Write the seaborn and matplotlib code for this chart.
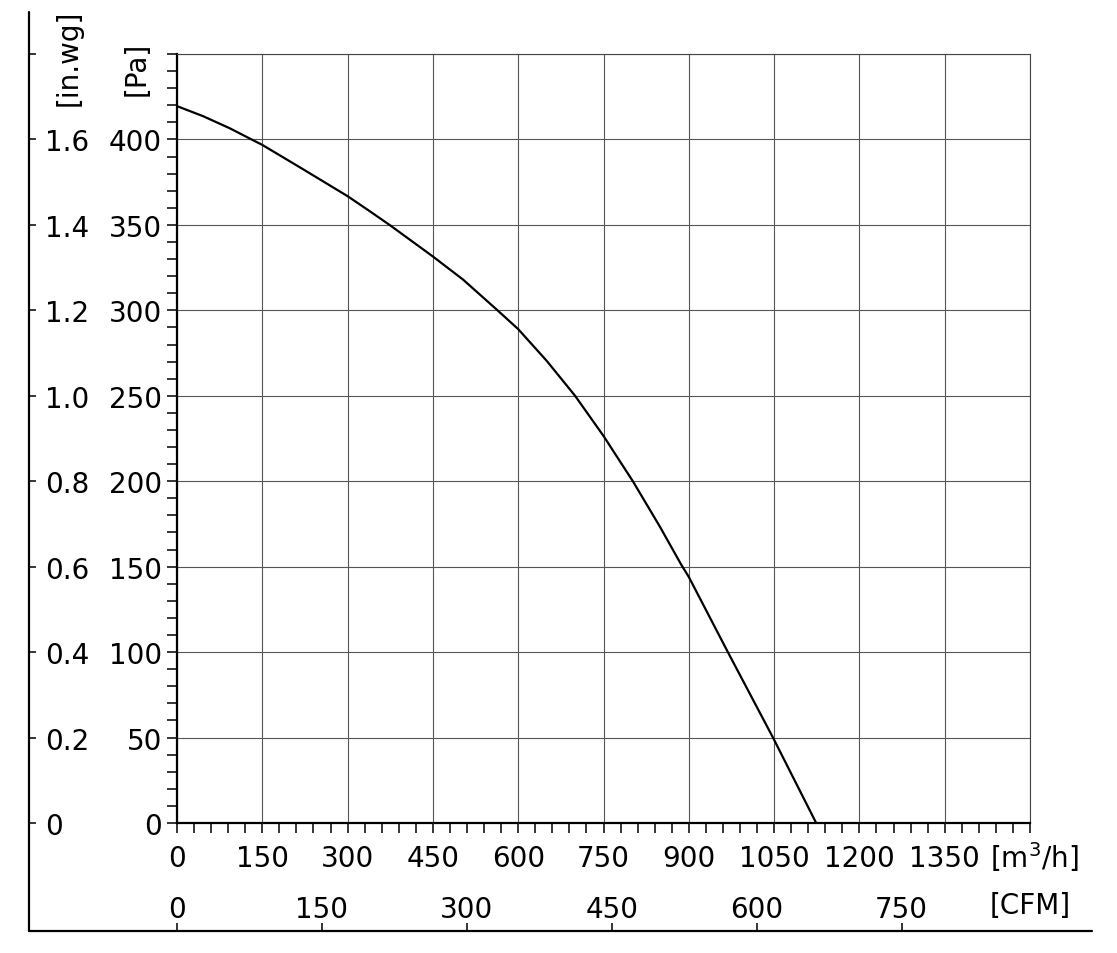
import matplotlib
matplotlib.use("Agg")
import matplotlib.pyplot as plt
from matplotlib.ticker import MultipleLocator, FixedLocator, FuncFormatter
from matplotlib.lines import Line2D
import seaborn as sns

# fan curve (air flow in m3/h, static pressure in Pa)
flow_m3h = [0, 46, 93, 134, 150, 222, 300, 339, 375, 450, 503, 562, 600, 650,
            700, 750, 802, 849, 887, 900, 969, 1048, 1124]
pressure_pa = [419.5, 413.6, 406.5, 399.5, 396.8, 382.5, 366.8, 358, 349.7, 331.5, 318, 300.5,
               289, 270.5, 250, 226.5, 199.8, 173.5, 151, 144, 99.8, 50, 0]

# axis ticks
flow_ticks = [0, 150, 300, 450, 600, 750, 900, 1050, 1200, 1350, 1500]
pa_ticks = [0, 50, 100, 150, 200, 250, 300, 350, 400, 450]
cfm_ticks = [0, 150, 300, 450, 600, 750]
inwg_ticks = [0, 0.2, 0.4, 0.6, 0.8, 1.0, 1.2, 1.4, 1.6, 1.8]

W, H = 1117, 954
FS = 20

sns.set_style("white")
plt.rcParams['font.family'] = ['DejaVu Sans']
plt.rcParams['text.color'] = 'black'

fig = plt.figure(figsize=(W / 100, H / 100), dpi=100)
ax = fig.add_axes([177 / W, 1 - 824 / H, (1030 - 177) / W, (824 - 55) / H])

sns.lineplot(x=flow_m3h, y=pressure_pa, color='black', lw=1.6, sort=False, ax=ax)
ax.set_xlim(0, 1500)
ax.set_ylim(0, 450)

# main ticks
ax.xaxis.set_major_locator(FixedLocator(flow_ticks))
ax.xaxis.set_minor_locator(MultipleLocator(30))
ax.yaxis.set_major_locator(FixedLocator(pa_ticks))
ax.yaxis.set_minor_locator(MultipleLocator(10))
ax.xaxis.set_major_formatter(FuncFormatter(lambda v, _: '' if v >= 1500 else f'{v:.0f}'))
ax.yaxis.set_major_formatter(FuncFormatter(lambda v, _: '' if v >= 450 else f'{v:.0f}'))
ax.tick_params(axis='both', which='both', direction='out', length=7.2, width=1.1,
               color='black', labelsize=FS, labelcolor='black')
ax.tick_params(axis='x', which='both', bottom=True, pad=8)
ax.tick_params(axis='y', which='both', left=True, pad=3.6)

ax.grid(True, which='major', color='#555555', lw=0.8)
for s in ['left', 'bottom']:
    ax.spines[s].set_linewidth(1.6)
    ax.spines[s].set_color('black')
for s in ['top', 'right']:
    ax.spines[s].set_linewidth(0.8)
    ax.spines[s].set_color('#444444')
ax.set_xlabel('')
ax.set_ylabel('')

# CFM scale below the m3/h scale
cfm = ax.secondary_xaxis((824 - 932) / (824 - 55),
                         functions=(lambda q: q / 1.699, lambda c: c * 1.699))
cfm.set_alignment('top')
cfm.xaxis.set_major_locator(FixedLocator(cfm_ticks))
cfm.xaxis.set_major_formatter(FuncFormatter(lambda v, _: f'{v:.0f}'))
cfm.tick_params(axis='x', direction='out', length=5.5, width=1.1, pad=0.5,
                labelsize=FS, labelcolor='black', color='black')
for s in cfm.spines.values():
    s.set_visible(False)

# in.wg scale on the far left
inwg = ax.secondary_yaxis((29 - 177) / (1030 - 177),
                          functions=(lambda p: p * 0.004, lambda w: w / 0.004))
inwg.set_alignment('right')
inwg.yaxis.set_major_locator(FixedLocator(inwg_ticks))
inwg.yaxis.set_major_formatter(
    FuncFormatter(lambda v, _: '' if v > 1.7 else ('0' if abs(v) < 1e-9 else f'{v:.1f}')))
inwg.tick_params(axis='y', direction='out', length=5, width=1.1, pad=6.5,
                 labelsize=FS, labelcolor='black', color='black')
for s in inwg.spines.values():
    s.set_visible(False)

# outer frame lines
fig.add_artist(Line2D([29 / W, 29 / W], [1 - 13 / H, 1 - 932 / H],
                      transform=fig.transFigure, color='black', lw=1.6))
fig.add_artist(Line2D([29 / W, 1092 / W], [1 - 932 / H, 1 - 932 / H],
                      transform=fig.transFigure, color='black', lw=1.6))

# unit labels
fig.text(990 / W, 1 - 868 / H, '[m$^3$/h]', fontsize=FS, ha='left', va='baseline', color='black')
fig.text(990 / W, 1 - 914 / H, '[CFM]', fontsize=FS, ha='left', va='baseline', color='black')
fig.text(69 / W, 1 - 58 / H, '[in.wg]', fontsize=FS, rotation=90, ha='center', va='center', color='black')
fig.text(137 / W, 1 - 69 / H, '[Pa]', fontsize=FS, rotation=90, ha='center', va='center', color='black')

fig.savefig('out.png', dpi=100, facecolor='white')
